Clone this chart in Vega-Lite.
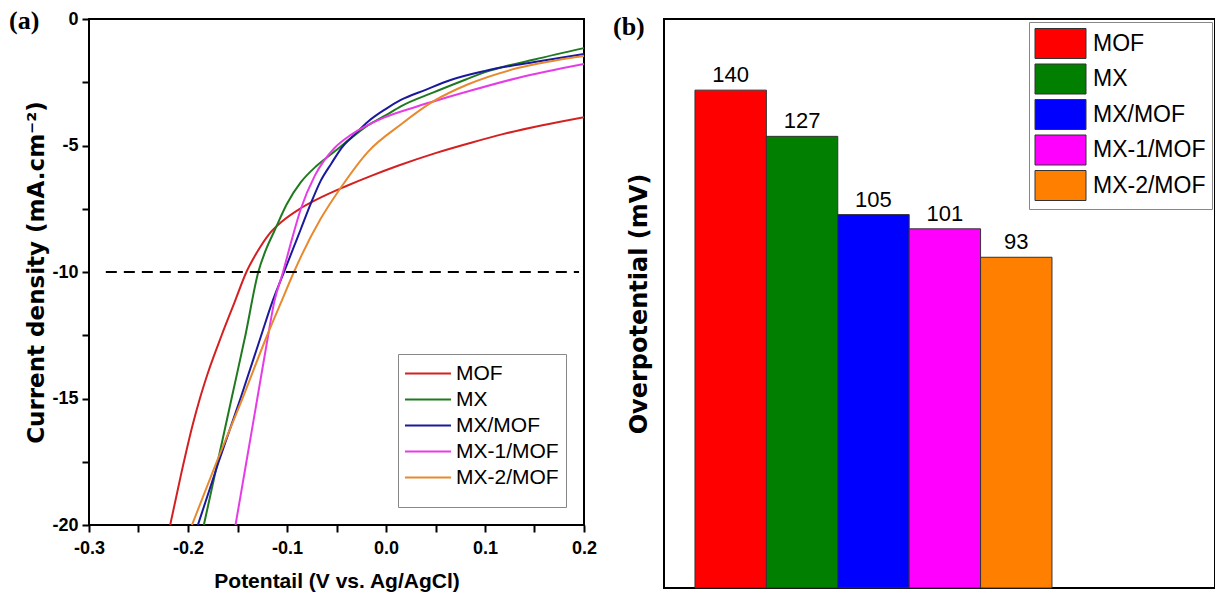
{
  "$schema": "https://vega.github.io/schema/vega-lite/v6.json",
  "background": "white",
  "padding": {"left": 8, "top": 7, "right": 0, "bottom": 0},
  "bounds": "flush",
  "spacing": 80,
  "config": {
    "view": {"stroke": "black", "strokeWidth": 2},
    "axis": {"domain": false, "grid": false, "labelColor": "black", "titleColor": "black", "tickColor": "black"}
  },
  "resolve": {"scale": {"color": "independent"}, "legend": {"color": "independent"}},
  "hconcat": [
    {
      "width": 495,
      "height": 506,
      "title": {"text": "(a)", "font": "Liberation Serif", "fontSize": 26, "fontWeight": "bold", "color": "black", "anchor": "start", "frame": "group", "dx": -80, "offset": -24, "baseline": "top"},
      "layer": [
        {
          "data": {"values": [
            {"sample": "MOF", "potential": -0.218, "current": -20},
            {"sample": "MOF", "potential": -0.207, "current": -18},
            {"sample": "MOF", "potential": -0.195, "current": -16},
            {"sample": "MOF", "potential": -0.188, "current": -15},
            {"sample": "MOF", "potential": -0.180, "current": -14},
            {"sample": "MOF", "potential": -0.166, "current": -12.5},
            {"sample": "MOF", "potential": -0.153, "current": -11.2},
            {"sample": "MOF", "potential": -0.141, "current": -10},
            {"sample": "MOF", "potential": -0.130, "current": -9.2},
            {"sample": "MOF", "potential": -0.118, "current": -8.5},
            {"sample": "MOF", "potential": -0.105, "current": -8.0},
            {"sample": "MOF", "potential": -0.087, "current": -7.5},
            {"sample": "MOF", "potential": -0.063, "current": -7.0},
            {"sample": "MOF", "potential": -0.040, "current": -6.6},
            {"sample": "MOF", "potential": -0.015, "current": -6.2},
            {"sample": "MOF", "potential": 0.012, "current": -5.8},
            {"sample": "MOF", "potential": 0.050, "current": -5.3},
            {"sample": "MOF", "potential": 0.085, "current": -4.9},
            {"sample": "MOF", "potential": 0.118, "current": -4.55},
            {"sample": "MOF", "potential": 0.158, "current": -4.2},
            {"sample": "MOF", "potential": 0.200, "current": -3.88},
            {"sample": "MX", "potential": -0.184, "current": -20},
            {"sample": "MX", "potential": -0.170, "current": -17.5},
            {"sample": "MX", "potential": -0.156, "current": -15},
            {"sample": "MX", "potential": -0.142, "current": -12.5},
            {"sample": "MX", "potential": -0.129, "current": -10},
            {"sample": "MX", "potential": -0.120, "current": -9.0},
            {"sample": "MX", "potential": -0.113, "current": -8.4},
            {"sample": "MX", "potential": -0.100, "current": -7.3},
            {"sample": "MX", "potential": -0.086, "current": -6.45},
            {"sample": "MX", "potential": -0.070, "current": -5.8},
            {"sample": "MX", "potential": -0.052, "current": -5.24},
            {"sample": "MX", "potential": -0.035, "current": -4.7},
            {"sample": "MX", "potential": -0.018, "current": -4.2},
            {"sample": "MX", "potential": 0.000, "current": -3.8},
            {"sample": "MX", "potential": 0.015, "current": -3.45},
            {"sample": "MX", "potential": 0.048, "current": -2.9},
            {"sample": "MX", "potential": 0.080, "current": -2.4},
            {"sample": "MX", "potential": 0.100, "current": -2.1},
            {"sample": "MX", "potential": 0.150, "current": -1.6},
            {"sample": "MX", "potential": 0.200, "current": -1.15},
            {"sample": "MX/MOF", "potential": -0.190, "current": -20},
            {"sample": "MX/MOF", "potential": -0.169, "current": -17.5},
            {"sample": "MX/MOF", "potential": -0.147, "current": -15},
            {"sample": "MX/MOF", "potential": -0.126, "current": -12.5},
            {"sample": "MX/MOF", "potential": -0.115, "current": -11.2},
            {"sample": "MX/MOF", "potential": -0.103, "current": -10},
            {"sample": "MX/MOF", "potential": -0.094, "current": -9.1},
            {"sample": "MX/MOF", "potential": -0.086, "current": -8.3},
            {"sample": "MX/MOF", "potential": -0.076, "current": -7.3},
            {"sample": "MX/MOF", "potential": -0.066, "current": -6.4},
            {"sample": "MX/MOF", "potential": -0.055, "current": -5.7},
            {"sample": "MX/MOF", "potential": -0.045, "current": -5.1},
            {"sample": "MX/MOF", "potential": -0.030, "current": -4.5},
            {"sample": "MX/MOF", "potential": -0.018, "current": -4.05},
            {"sample": "MX/MOF", "potential": 0.000, "current": -3.55},
            {"sample": "MX/MOF", "potential": 0.015, "current": -3.2},
            {"sample": "MX/MOF", "potential": 0.040, "current": -2.8},
            {"sample": "MX/MOF", "potential": 0.066, "current": -2.4},
            {"sample": "MX/MOF", "potential": 0.100, "current": -2.05},
            {"sample": "MX/MOF", "potential": 0.150, "current": -1.7},
            {"sample": "MX/MOF", "potential": 0.200, "current": -1.38},
            {"sample": "MX-1/MOF", "potential": -0.152, "current": -20},
            {"sample": "MX-1/MOF", "potential": -0.141, "current": -17.5},
            {"sample": "MX-1/MOF", "potential": -0.130, "current": -15},
            {"sample": "MX-1/MOF", "potential": -0.119, "current": -12.5},
            {"sample": "MX-1/MOF", "potential": -0.113, "current": -11.2},
            {"sample": "MX-1/MOF", "potential": -0.104, "current": -10},
            {"sample": "MX-1/MOF", "potential": -0.095, "current": -8.7},
            {"sample": "MX-1/MOF", "potential": -0.086, "current": -7.5},
            {"sample": "MX-1/MOF", "potential": -0.072, "current": -6.2},
            {"sample": "MX-1/MOF", "potential": -0.052, "current": -5.1},
            {"sample": "MX-1/MOF", "potential": -0.035, "current": -4.57},
            {"sample": "MX-1/MOF", "potential": -0.002, "current": -3.9},
            {"sample": "MX-1/MOF", "potential": 0.032, "current": -3.45},
            {"sample": "MX-1/MOF", "potential": 0.083, "current": -2.86},
            {"sample": "MX-1/MOF", "potential": 0.133, "current": -2.33},
            {"sample": "MX-1/MOF", "potential": 0.200, "current": -1.78},
            {"sample": "MX-2/MOF", "potential": -0.196, "current": -20},
            {"sample": "MX-2/MOF", "potential": -0.171, "current": -17.5},
            {"sample": "MX-2/MOF", "potential": -0.145, "current": -15},
            {"sample": "MX-2/MOF", "potential": -0.120, "current": -12.5},
            {"sample": "MX-2/MOF", "potential": -0.106, "current": -11.2},
            {"sample": "MX-2/MOF", "potential": -0.093, "current": -10},
            {"sample": "MX-2/MOF", "potential": -0.086, "current": -9.4},
            {"sample": "MX-2/MOF", "potential": -0.066, "current": -7.9},
            {"sample": "MX-2/MOF", "potential": -0.045, "current": -6.63},
            {"sample": "MX-2/MOF", "potential": -0.018, "current": -5.24},
            {"sample": "MX-2/MOF", "potential": 0.015, "current": -4.17},
            {"sample": "MX-2/MOF", "potential": 0.048, "current": -3.25},
            {"sample": "MX-2/MOF", "potential": 0.083, "current": -2.58},
            {"sample": "MX-2/MOF", "potential": 0.133, "current": -1.94},
            {"sample": "MX-2/MOF", "potential": 0.200, "current": -1.46}
          ]},
          "mark": {"type": "line", "strokeWidth": 2, "interpolate": "monotone", "clip": true},
          "encoding": {
            "x": {
              "field": "potential", "type": "quantitative",
              "scale": {"domain": [-0.3, 0.2], "nice": false, "zero": false},
              "axis": {
                "title": "Potentail (V vs. Ag/AgCl)",
                "values": [-0.3, -0.25, -0.2, -0.15, -0.1, -0.05, 0, 0.05, 0.1, 0.15, 0.2],
                "labelExpr": "abs(datum.value*10 - round(datum.value*10)) < 0.001 ? replace(format(datum.value, '.1f'), '\u2212', '-') : ''",
                "tickSize": 7, "tickWidth": 2,
                "labelFont": "Liberation Sans", "labelFontWeight": "bold", "labelFontSize": 18,
                "labelPadding": 7, "labelFlush": false, "labelOverlap": false,
                "titleFont": "Liberation Sans", "titleFontWeight": "bold", "titleFontSize": 21, "titlePadding": 13
              }
            },
            "y": {
              "field": "current", "type": "quantitative",
              "scale": {"domain": [-20, 0], "nice": false, "zero": false},
              "axis": {
                "title": "Current density (mA.cm\u207b\u00b2)",
                "values": [-20, -17.5, -15, -12.5, -10, -7.5, -5, -2.5, 0],
                "labelExpr": "datum.value % 5 === 0 ? replace(datum.label, '\u2212', '-') : ''",
                "tickSize": 7, "tickWidth": 2,
                "labelFont": "Liberation Sans", "labelFontWeight": "bold", "labelFontSize": 18,
                "labelPadding": 4, "labelFlush": false, "labelOverlap": false,
                "titleFont": "DejaVu Sans", "titleFontWeight": "bold", "titleFontSize": 23, "titlePadding": 3
              }
            },
            "color": {
              "field": "sample", "type": "nominal",
              "scale": {"domain": ["MOF", "MX", "MX/MOF", "MX-1/MOF", "MX-2/MOF"], "range": ["#d42020", "#1f7a1f", "#1a1a9c", "#e63ce6", "#e8892e"]},
              "legend": {
                "title": " ", "titleFontSize": 8, "titlePadding": 4, "titleOrient": "bottom",
                "orient": "bottom-right", "offset": 18,
                "symbolType": "M-1.09,0H2.91", "symbolSize": 529, "symbolStrokeWidth": 2,
                "labelFont": "Liberation Sans", "labelFontSize": 21, "labelColor": "black",
                "strokeColor": "#888888", "fillColor": "white", "padding": 7, "rowPadding": 3, "labelOffset": 26
              }
            }
          }
        },
        {
          "data": {"values": [{}]},
          "mark": {"type": "rule", "strokeDash": [11, 7], "strokeWidth": 2, "color": "black"},
          "encoding": {
            "y": {"datum": -10, "type": "quantitative"},
            "x": {"datum": -0.283, "type": "quantitative"},
            "x2": {"datum": 0.195}
          }
        }
      ]
    },
    {
      "width": 551,
      "height": 569,
      "title": {"text": "(b)", "font": "Liberation Serif", "fontSize": 26, "fontWeight": "bold", "color": "black", "anchor": "start", "frame": "group", "dx": -51, "offset": -21, "baseline": "top"},
      "data": {"values": [
        {"catalyst": "MOF", "overpotential": 140},
        {"catalyst": "MX", "overpotential": 127},
        {"catalyst": "MX/MOF", "overpotential": 105},
        {"catalyst": "MX-1/MOF", "overpotential": 101},
        {"catalyst": "MX-2/MOF", "overpotential": 93}
      ]},
      "encoding": {
        "x": {"field": "catalyst", "type": "nominal", "sort": null,
              "scale": {"domain": ["MOF", "MX", "MX/MOF", "MX-1/MOF", "MX-2/MOF", " ", "  "], "paddingInner": 0, "paddingOuter": 0.3585, "align": 0.605},
              "axis": null},
        "y": {
          "field": "overpotential", "type": "quantitative",
          "scale": {"domain": [0, 160], "nice": false},
          "axis": {"title": "Overpotential (mV)", "labels": false, "ticks": false, "domain": false, "grid": false,
                   "titleFont": "DejaVu Sans", "titleFontWeight": "bold", "titleFontSize": 24, "titlePadding": 13}
        }
      },
      "layer": [
        {
          "mark": {"type": "bar", "stroke": "#333333", "strokeWidth": 1},
          "encoding": {
            "color": {
              "field": "catalyst", "type": "nominal",
              "scale": {"domain": ["MOF", "MX", "MX/MOF", "MX-1/MOF", "MX-2/MOF"], "range": ["#ff0000", "#007f00", "#0000ff", "#ff00ff", "#ff8000"]},
              "legend": {
                "title": null, "orient": "top-right", "offset": 3,
                "symbolType": "M-1.033,-1H2.367V1H-1.033Z", "symbolSize": 900, "symbolStrokeColor": "#333333", "symbolStrokeWidth": 1, "symbolOpacity": 1,
                "labelFont": "Liberation Sans", "labelFontSize": 23, "labelColor": "black",
                "strokeColor": "#888888", "fillColor": "white", "padding": 6, "rowPadding": 0.5, "labelOffset": 27
              }
            }
          }
        },
        {
          "mark": {"type": "text", "baseline": "bottom", "dy": -3, "font": "Liberation Sans", "fontSize": 22, "color": "black"},
          "encoding": {"text": {"field": "overpotential", "type": "quantitative"}}
        }
      ]
    }
  ]
}
